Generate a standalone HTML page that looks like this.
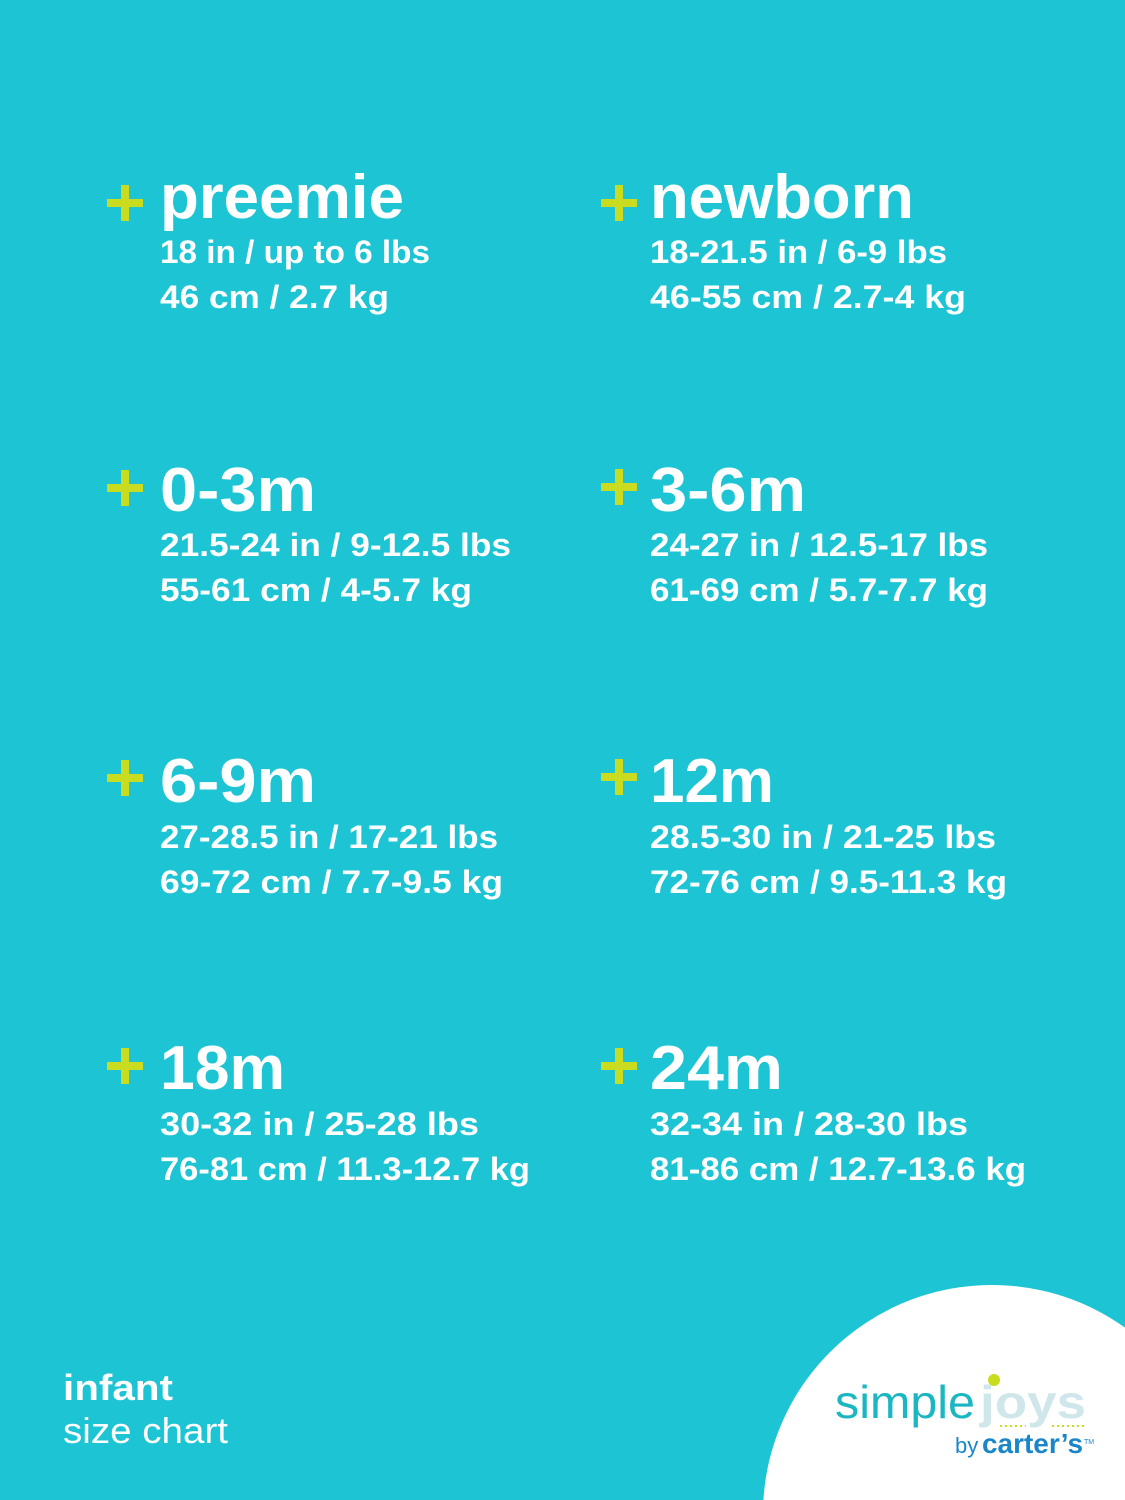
<!DOCTYPE html>
<html><head><meta charset="utf-8"><style>
html,body{margin:0;padding:0;width:1125px;height:1500px;overflow:hidden}
body{background:#1cc4d4;position:relative}
svg{display:block;position:absolute;left:0;top:0;overflow:hidden}
</style></head><body>
<svg width="1125" height="1500" viewBox="0 0 1125 1500" xmlns="http://www.w3.org/2000/svg" font-family="Liberation Sans, sans-serif">
<rect width="1125" height="1500" fill="#1cc4d4"/>
<g fill="#c9dc1f">
<rect x="107" y="199" width="36" height="8"/><rect x="121" y="185" width="8" height="36"/>
<rect x="601" y="199" width="36" height="8"/><rect x="615" y="185" width="8" height="36"/>
<rect x="107" y="484" width="36" height="8"/><rect x="121" y="470" width="8" height="36"/>
<rect x="601" y="483" width="36" height="8"/><rect x="615" y="469" width="8" height="36"/>
<rect x="107" y="774" width="36" height="8"/><rect x="121" y="760" width="8" height="36"/>
<rect x="601" y="773" width="36" height="8"/><rect x="615" y="759" width="8" height="36"/>
<rect x="107" y="1062" width="36" height="8"/><rect x="121" y="1048" width="8" height="36"/>
<rect x="601" y="1062" width="36" height="8"/><rect x="615" y="1048" width="8" height="36"/>
</g>
<g fill="#fff" font-weight="bold">
<g font-size="62">
<text x="160" y="218" textLength="244" lengthAdjust="spacingAndGlyphs">preemie</text>
<text x="650" y="218" textLength="264" lengthAdjust="spacingAndGlyphs">newborn</text>
<text x="160" y="511" textLength="156" lengthAdjust="spacingAndGlyphs">0-3m</text>
<text x="650" y="511" textLength="156" lengthAdjust="spacingAndGlyphs">3-6m</text>
<text x="160" y="802" textLength="156" lengthAdjust="spacingAndGlyphs">6-9m</text>
<text x="650" y="802" textLength="124" lengthAdjust="spacingAndGlyphs">12m</text>
<text x="160" y="1089" textLength="125" lengthAdjust="spacingAndGlyphs">18m</text>
<text x="650" y="1089" textLength="133" lengthAdjust="spacingAndGlyphs">24m</text>
</g>
<g font-size="32">
<text x="160" y="263" textLength="270" lengthAdjust="spacingAndGlyphs">18 in / up to 6 lbs</text>
<text x="160" y="308" textLength="229" lengthAdjust="spacingAndGlyphs">46 cm / 2.7 kg</text>
<text x="650" y="263" textLength="297" lengthAdjust="spacingAndGlyphs">18-21.5 in / 6-9 lbs</text>
<text x="650" y="308" textLength="316" lengthAdjust="spacingAndGlyphs">46-55 cm / 2.7-4 kg</text>
<text x="160" y="556" textLength="351" lengthAdjust="spacingAndGlyphs">21.5-24 in / 9-12.5 lbs</text>
<text x="160" y="601" textLength="312" lengthAdjust="spacingAndGlyphs">55-61 cm / 4-5.7 kg</text>
<text x="650" y="556" textLength="338" lengthAdjust="spacingAndGlyphs">24-27 in / 12.5-17 lbs</text>
<text x="650" y="601" textLength="338" lengthAdjust="spacingAndGlyphs">61-69 cm / 5.7-7.7 kg</text>
<text x="160" y="848" textLength="338" lengthAdjust="spacingAndGlyphs">27-28.5 in / 17-21 lbs</text>
<text x="160" y="893" textLength="343" lengthAdjust="spacingAndGlyphs">69-72 cm / 7.7-9.5 kg</text>
<text x="650" y="848" textLength="346" lengthAdjust="spacingAndGlyphs">28.5-30 in / 21-25 lbs</text>
<text x="650" y="893" textLength="357" lengthAdjust="spacingAndGlyphs">72-76 cm / 9.5-11.3 kg</text>
<text x="160" y="1135" textLength="319" lengthAdjust="spacingAndGlyphs">30-32 in / 25-28 lbs</text>
<text x="160" y="1180" textLength="370" lengthAdjust="spacingAndGlyphs">76-81 cm / 11.3-12.7 kg</text>
<text x="650" y="1135" textLength="318" lengthAdjust="spacingAndGlyphs">32-34 in / 28-30 lbs</text>
<text x="650" y="1180" textLength="376" lengthAdjust="spacingAndGlyphs">81-86 cm / 12.7-13.6 kg</text>
</g>
<text x="63" y="1400" font-size="36" textLength="110" lengthAdjust="spacingAndGlyphs">infant</text>
</g>
<text x="63" y="1443" font-size="36" fill="#fff" textLength="165" lengthAdjust="spacingAndGlyphs">size chart</text>
<path d="M763.4 1500 A229 229 0 0 1 1125 1327.6 L1125 1500 Z" fill="#fff"/>
<text x="835" y="1418" font-size="46" fill="#1ab6c2" textLength="140" lengthAdjust="spacingAndGlyphs">simple</text>
<text x="980" y="1418" font-size="46" font-weight="bold" fill="#cfe7eb" textLength="106" lengthAdjust="spacingAndGlyphs">joys</text>
<circle cx="994" cy="1380" r="6" fill="#c9dc1f"/>
<line x1="1000" y1="1426" x2="1026" y2="1426" stroke="#c9dc1f" stroke-width="2" stroke-dasharray="2 3"/>
<line x1="1052" y1="1426" x2="1086" y2="1426" stroke="#c9dc1f" stroke-width="2" stroke-dasharray="2 3"/>
<text x="955" y="1453" font-size="22" fill="#1a86c8">by</text>
<text x="982" y="1453" font-size="28" font-weight="bold" fill="#1a86c8" textLength="101" lengthAdjust="spacingAndGlyphs">carter’s</text>
<text x="1084" y="1444" font-size="7" fill="#1a86c8">TM</text>
</svg>
</body></html>
